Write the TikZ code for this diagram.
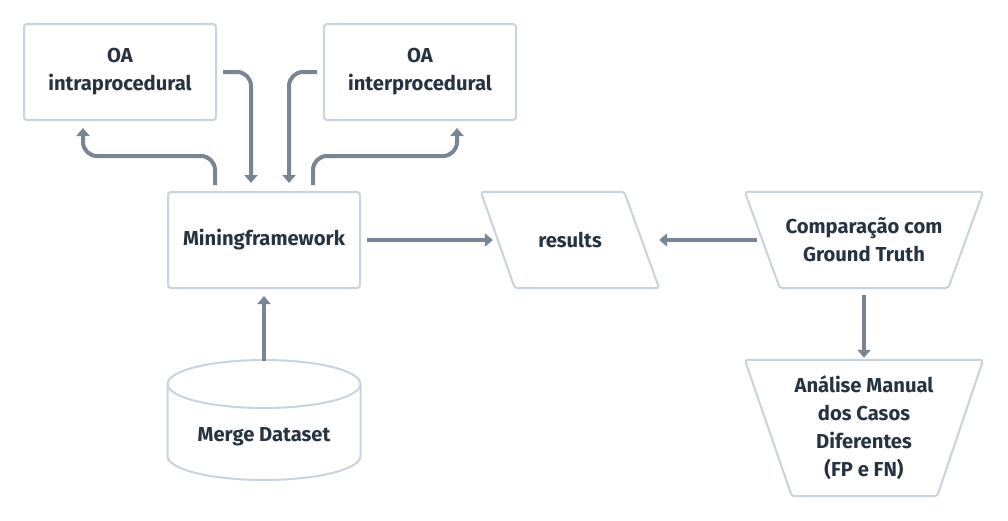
\documentclass[tikz,border=0pt]{standalone}
\usepackage{fontspec}
\setmainfont{Fira Sans}
\usetikzlibrary{arrows.meta,calc}
\definecolor{txt}{HTML}{263341}
\definecolor{bordc}{HTML}{C9D3DD}
\definecolor{arrc}{HTML}{778594}
\tikzset{
  lbl/.style={font=\bfseries\fontsize{20.2}{28}\selectfont, text=txt, align=center, inner sep=0pt},
  box/.style={lbl, draw=bordc, line width=2pt, rounded corners=3pt, minimum width=192pt, minimum height=96pt},
  bord/.style={draw=bordc, line width=2pt, rounded corners=3pt, line join=round},
  conn/.style={draw=arrc, line width=4pt, -{Triangle[width=13pt,length=8pt]}, rounded corners=14pt},
}
\begin{document}
\begin{tikzpicture}[x=1pt,y=-1pt]
\fill[white] (0,0) rectangle (1008,520);
\useasboundingbox (0,0) rectangle (1008,520);

\node[box] (intra) at (120,72) {OA\\intraprocedural};
\node[box] (inter) at (420,72) {OA\\interprocedural};
\node[box] (mining) at (264,240) {Miningframework};

\node[lbl, minimum width=178pt, minimum height=96pt] (results) at (570,240) {results};
\draw[bord] (results.north west) -- ($(results.north east)+(-35,0)$) -- (results.south east) -- ($(results.south west)+(34,0)$) -- cycle;

\node[lbl, minimum width=238pt, minimum height=96pt] (comp) at (864,240) {Comparação com\\Ground Truth};
\draw[bord] (comp.north west) -- (comp.north east) -- ($(comp.south east)+(-35,0)$) -- ($(comp.south west)+(35,0)$) -- cycle;

\node[lbl, minimum width=238pt, minimum height=136pt] (analise) at (864,428) {Análise Manual\\dos Casos\\Diferentes\\(FP e FN)};
\draw[bord] (analise.north west) -- (analise.north east) -- ($(analise.south east)+(-46,0)$) -- ($(analise.south west)+(47,0)$) -- cycle;

\node[lbl, minimum width=193pt] (merge) at (264,437) {Merge Dataset};
\coordinate (ctop) at ($(merge.center)+(0,-53)$);
\coordinate (cbot) at ($(merge.center)+(0,19)$);
\draw[bord, rounded corners=0pt] (ctop) ellipse [x radius=96.5pt, y radius=24pt];
\draw[bord, rounded corners=0pt] ($(ctop)+(-96.5,0)$) -- ($(cbot)+(-96.5,0)$) arc[start angle=180, end angle=360, x radius=96.5pt, y radius=24pt] -- ($(ctop)+(96.5,0)$);

\draw[conn] ($(mining.north west)+(48,-6)$) |- ($(intra.south west)+(60,35)$) -- ($(intra.south west)+(60,7)$);
\draw[conn] ($(intra.east)+(6,0)$) -| ($(mining.north west)+(84,-8)$);
\draw[conn] ($(inter.west)+(-6,0)$) -| ($(mining.north east)+(-72,-8)$);
\draw[conn] ($(mining.north east)+(-48,-6)$) |- ($(inter.south east)+(-60,35)$) -- ($(inter.south east)+(-60,7)$);
\draw[conn] ($(mining.east)+(6,0)$) -- ($(results.west)+(12,0)$);
\draw[conn] ($(comp.west)+(12,0)$) -- (results.east);
\draw[conn] ($(comp.south)+(0,7)$) -- ($(analise.north)+(0,-2)$);
\draw[conn] ($(ctop)+(0,-23)$) -- ($(mining.south)+(0,7)$);
\end{tikzpicture}
\end{document}
